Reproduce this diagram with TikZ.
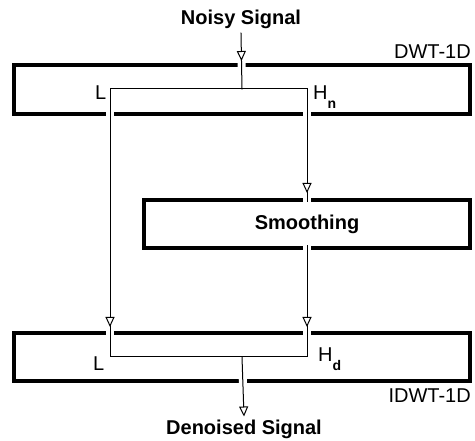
\documentclass[tikz,border=0pt]{standalone}
\usepackage{fontspec}
\setmainfont{Liberation Sans}
\usetikzlibrary{arrows.meta,decorations.markings}
\newcommand{\lowidx}[1]{\raisebox{-9pt}{\fontsize{14}{16}\selectfont\bfseries #1}}

\begin{document}
\begin{tikzpicture}[x=1pt,y=-1pt,
  block/.style={draw,line width=4pt,inner sep=0pt,minimum width=456pt,minimum height=48pt},
  link/.style={line width=1pt,line cap=rect},
  cut/.style={preaction={draw=white,line width=8pt,line cap=butt}},
  head/.style={-{Triangle[fill=white,length=10pt,width=9pt]}},
  midhead/.style={postaction={decorate,decoration={markings,
    mark=at position #1 with {\arrow{Triangle[fill=white,length=10pt,width=9pt]}}}}},
  title/.style={font=\bfseries\fontsize{20}{24}\selectfont,inner sep=0pt,outer sep=4pt,anchor=base},
  lbl/.style={font=\fontsize{20}{24}\selectfont,inner sep=0pt,anchor=base west}]
  \useasboundingbox (0,0) rectangle (475,441);
  \node[block,minimum height=49pt] (dwt) at (242,89.5) {};
  \node[block,minimum width=326pt,font=\bfseries\fontsize{20}{24}\selectfont] (smooth) at (307,224) {Smoothing};
  \node[block] (idwt) at (242,357) {};
  \node[title] (noisy) at (241,25) {Noisy Signal};
  \node[title] (denoised) at (244,435) {Denoised Signal};
  \node[lbl,anchor=base east] (dwtname) at (471,59) {DWT-1D};
  \node[lbl,anchor=base east] (idwtname) at (471,403) {IDWT-1D};
  \node[lbl] (lowin) at (95,100) {L};
  \node[lbl] (highin) at (313,100) {H\lowidx{n}};
  \node[lbl] (lowout) at (93,371) {L};
  \node[lbl] (highout) at (318,362) {H\lowidx{d}};
  \coordinate (split) at (242,89);
  \coordinate (tl) at (110,89);
  \coordinate (tr) at (307,89);
  \coordinate (bl) at (110,357);
  \coordinate (br) at (307,357);
  \coordinate (merge) at (242,357);
  \draw[link,cut,midhead=-28pt] (noisy.south) -- (split);
  \draw[link,cut,midhead=-30pt] (tl) -- (bl);
  \draw[link,cut,midhead=-9pt] (tr) -- ([yshift=-4pt]smooth.north);
  \draw[link,cut,midhead=-30pt] ([yshift=4pt]smooth.south) -- (br);
  \draw[link,cut,head] (merge) -- (denoised.north);
  \draw[link] (tl) -- (tr);
  \draw[link] (bl) -- (br);
\end{tikzpicture}
\end{document}
